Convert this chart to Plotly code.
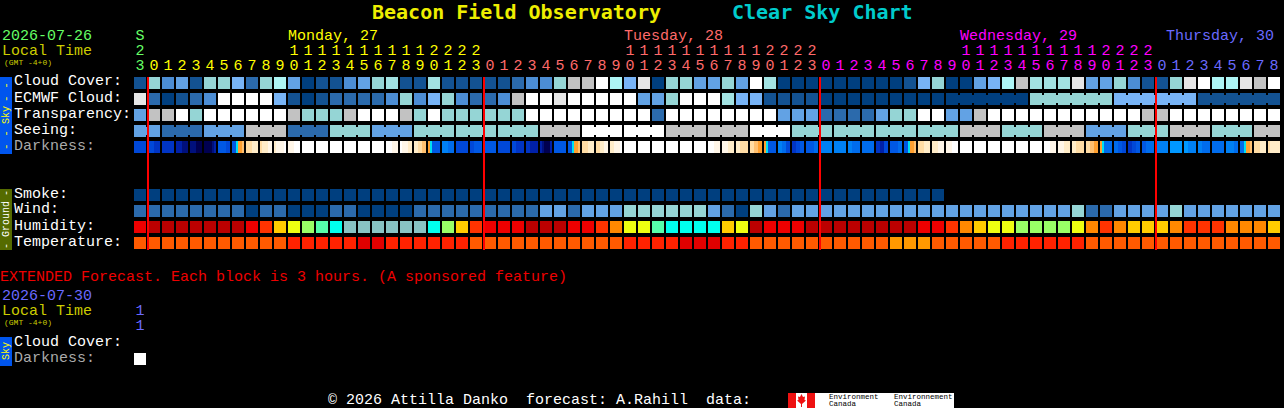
import plotly.graph_objects as go

# ---------- data: level codes ----------
cloud_cover = [1,8,3,4,1,8,8,5,2,8, 6,4,0,1,1,3,4,8,7,1, 1,7,1,1,1,1,1,2,3,3,
               8,9,9,11,6,5,10,0,8,8, 4,4,8,4,11,7,0,0,0,0, 0,0,0,0,0,1,5,8,0,0,
               4,5,6,9,7,7,7,10,4,4, 8,3,1,1,8,10,11,6,6,10, 9,11]
ecmwf_cloud = [10,2,0,1,2,3,11,11,11,11, 5,1,0,1,2,2,2,2,3,8, 3,5,8,3,2,2,3,9,11,11,
               10,11,11,11,11,11,4,4,8,11, 11,11,7,5,5,1,1,1,1,0, 0,0,0,0,0,0,0,0,0,0,
               0,0,0,0,8,8,8,8,8,8, 5,5,5,5,5,5,1,1,1,1, 1,1]
transparency = [4,9,9,11,8,11,11,11,11,11, 11,9,8,8,8,9,11,11,11,9, 8,11,8,8,8,8,8,8,11,11,
                11,11,11,11,11,11,11,2,11,11, 11,11,11,11,11,11,4,4,4,2, 2,2,2,4,8,8,11,11,4,4,
                9,11,11,11,11,11,11,11,11,11, 11,11,9,9,11,11,11,11,11,11, 11,11]
seeing = [4,4,2,2,2,4,4,4,9,9, 9,2,2,2,8,8,8,4,4,4, 8,8,8,8,8,8,8,8,8,9,
          9,9,11,11,11,11,11,11,9,9, 9,9,9,9,11,11,11,8,8,8, 8,8,8,8,8,8,8,8,8,9,
          9,9,8,8,8,9,9,9,4,4, 4,8,8,8,9,9,9,8,8,8, 9,9]
smoke = [0,0,0,0,0,0,0,0,0,0, 0,0,0,0,0,0,0,0,0,0, 0,0,0,0,0,0,0,0,0,0,
         0,0,0,0,0,0,0,0,0,0, 0,0,0,0,0,0,0,0,0,0, 0,0,0,0,0,0,0,0]
wind = [2,2,2,2,2,2,2,2,0,2, 2,0,0,0,2,2,0,0,0,0, 2,2,2,2,2,2,2,2,2,4,
        4,2,4,4,4,8,8,8,8,8, 8,4,2,0,8,4,2,4,4,4, 4,4,4,4,4,4,4,4,4,4,
        4,4,4,4,4,4,4,8,2,2, 4,4,4,4,8,4,4,4,4,4, 4,4]
humidity = list("RDDDDDDDRO" "YELMCGGGGG" "GCLYORRRDD" "DRROAEEMCC" "CCYEDRRRDD"
                "DDDDDDRROA" "YEELLLLEAO" "AYYYAOOOAA" "AY")
temperature = list("TTTTTTTTTT" "THHHHHXXHH" "HHHHTTTTTT" "TTTTTHHHHX" "XXHHTTTTTT"
                   "TTTTMMMTTT" "TTHHHHHHTT" "TTTTTTTTTT" "TT")
darkness = ["444444","444333","333333","222111","111000","000012","555544","55cooa","bbbddd","bdddee",
            "deeeew","eeewww","wwwwww","wwwwww","wwwwww","wwwwww","wwwwww","wwwwww","wwweee","weeedd",
            "ddbbaa","oc5555","777666","444444","445555","555555","444444","443333","332222","210002",
            "555555","55cooa","bbbddd","bbddee","ddeeew","wwwwww","wwwwww","wwwwww","wwwwww","wwwwww",
            "wwwwww","wwweee","eeeddd","ddbbbb","bbaaoo","oc5555","776644","334455","555566","777777",
            "777777","776666","666666","332244","555566","55cooa","bbbddd","dddeee","eeewww","wwwwww",
            "wwwwww","wwwwww","wwwwww","wwwwww","wwwwww","wwweee","eeeddd","ddbbbb","bbaaoo","oc6666",
            "665544","334455","556666","777777","888888","887777","776666","666666","777766","66cooa",
            "bbbddd","bddddd"]
extended_darkness = ["wwwwww"]
hour_labels = [23] + list(range(24)) + list(range(24)) + list(range(24)) + list(range(9))
midnights = [0, 24, 48, 72]
day_colors = ["#66ff66"] + ["#ffff00"]*24 + ["#ff6a6a"]*24 + ["#ff00ff"]*24 + ["#6a6aff"]*9

sky_palette = ["#003f7f","#135292","#2b6aac","#4c8dd4","#62a2e4","#78b4f6",
               "#adf5f5","#a2e2e2","#95d5d5","#c2c2c2","#e6e6e6","#ffffff"]
hum_palette = dict(D="#bb0000",R="#ee0000",O="#ff3300",A="#ff8800",Y="#ffcc00",E="#eeff11",
                   L="#99ff66",M="#55ffaa",C="#00ffee",G="#88c4c4")
tmp_palette = dict(T="#ff5a00",H="#ff2200",X="#e00000",M="#ff9900")
dark_palette = {"0":"#000050","1":"#00107c","2":"#0020a8","3":"#0034c4","4":"#0048d8","5":"#0058e4",
                "6":"#006cec","7":"#0080f4","8":"#0098ff","c":"#00e0f0","o":"#ffa030","a":"#ffc070",
                "b":"#ffdca4","d":"#ffecc8","e":"#fff6e8","w":"#ffffff"}

W, H = 1284, 408
FONT = "Liberation Mono"
CELL, ROW = 14.0, 16.0          # pixels per hour / per row
x0_px, y0_px = 140.0, 83.0      # pixel of hour index 0, row 0

fig = go.Figure()

def py2row(p):
    return (p - y0_px) / ROW

def row_bars(values, palette, row):
    idx = list(range(len(values)))
    fig.add_trace(go.Bar(x=idx, y=[0.75]*len(idx), base=[row-0.375]*len(idx), width=12/CELL,
                         marker=dict(color=[palette[v] for v in values], line=dict(width=0)),
                         hoverinfo="skip", showlegend=False))

def joints(values, row, block_starts, first=0):
    idx = [i for i in range(first, len(values)-1) if (i+1) not in block_starts]
    fig.add_trace(go.Bar(x=[i+0.5 for i in idx], y=[0.5]*len(idx), base=[row-0.25]*len(idx), width=2/CELL,
                         marker=dict(color=[sky_palette[values[i]] for i in idx], line=dict(width=0)),
                         hoverinfo="skip", showlegend=False))

def dark_bars(cells, row):
    xs, cols = [], []
    for i, s in enumerate(cells):
        for k, ch in enumerate(s):
            xs.append(i + (k-2.5)*2/CELL)
            cols.append(dark_palette[ch])
    fig.add_trace(go.Bar(x=xs, y=[0.75]*len(xs), base=[row-0.375]*len(xs), width=2/CELL,
                         marker=dict(color=cols, line=dict(width=0)),
                         hoverinfo="skip", showlegend=False))

row_bars(cloud_cover, sky_palette, 0)
row_bars(ecmwf_cloud, sky_palette, 1)
joints(ecmwf_cloud, 1, {64, 70, 76}, first=58)
row_bars(transparency, sky_palette, 2)
row_bars(seeing, sky_palette, 3)
joints(seeing, 3, set(range(2, 82, 3)))
dark_bars(darkness, 4)
row_bars(smoke, sky_palette, 7)
row_bars(wind, sky_palette, 8)
row_bars(humidity, hum_palette, 9)
row_bars(temperature, tmp_palette, 10)
dark_bars(extended_darkness, py2row(359))

# midnight lines
fig.add_trace(go.Bar(x=[m + 4/7 for m in midnights], y=[py2row(250)-py2row(77)]*4, base=[py2row(77)]*4,
                     width=2/CELL, marker=dict(color="#ff0000", line=dict(width=0)),
                     hoverinfo="skip", showlegend=False))

# hour digits
idx = list(range(len(hour_labels)))
fig.add_trace(go.Scatter(x=idx, y=[py2row(66)]*len(idx), mode="text",
                         text=[str(h % 10) for h in hour_labels], textposition="middle center",
                         textfont=dict(family=FONT, size=15, color=day_colors),
                         hoverinfo="skip", showlegend=False))
tens = [i for i in idx if hour_labels[i] >= 10]
fig.add_trace(go.Scatter(x=tens, y=[py2row(51)]*len(tens), mode="text",
                         text=[str(hour_labels[i]//10) for i in tens], textposition="middle center",
                         textfont=dict(family=FONT, size=15, color=[day_colors[i] for i in tens]),
                         hoverinfo="skip", showlegend=False))
fig.add_trace(go.Scatter(x=[0, 0, 0], y=[py2row(36), py2row(311), py2row(326)],
                         mode="text", text=["S", "1", "1"], textposition="middle center",
                         textfont=dict(family=FONT, size=15, color=["#66ff66", "#6a6aff", "#6a6aff"]),
                         hoverinfo="skip", showlegend=False))

ann = []
def text(px, py, s, color="#ffffff", size=15, family=FONT, anchor="left", angle=0, bold=False):
    if bold:
        s = "<b>" + s + "</b>"
    ann.append(dict(x=px/W, y=1-py/H, xref="paper", yref="paper", text=s.replace(" ", "\u00a0"),
                    showarrow=False, xanchor=anchor, yanchor="middle", textangle=angle,
                    font=dict(family=family, size=size, color=color), borderpad=0))

text(371, 12, "Beacon Field Observatory", "#eeee00", 20, "DejaVu Sans Mono", bold=True)
text(731, 12, "Clear Sky Chart", "#00cccc", 20, "DejaVu Sans Mono", bold=True)
text(1, 36, "2026-07-26", "#66ff66")
text(1, 51, "Local Time", "#cccc00")
text(3, 62, "(GMT -4+0)", "#cccc00", 8)
text(287, 36, "Monday, 27", "#ffff00")
text(623, 36, "Tuesday, 28", "#ff6a6a")
text(959, 36, "Wednesday, 29", "#ff00ff")
text(1275, 36, "Thursday, 30", "#6a6aff", anchor="right")
rows = [("Cloud Cover:",82,"#ffffff"),("ECMWF Cloud:",98,"#ffffff"),("Transparency:",114,"#ffffff"),
        ("Seeing:",130,"#ffffff"),("Darkness:",146,"#aaaaaa"),("Smoke:",194,"#ffffff"),
        ("Wind:",210,"#ffffff"),("Humidity:",226,"#ffffff"),("Temperature:",242,"#ffffff"),
        ("Cloud Cover:",342,"#ffffff"),("Darkness:",358,"#aaaaaa")]
for s, y, c in rows:
    text(13, y, s, c)
text(-1, 277, "EXTENDED Forecast. Each block is 3 hours. (A sponsored feature)", "#ee0000")
text(1, 296, "2026-07-30", "#6a6aff")
text(1, 311, "Local Time", "#cccc00")
text(3, 322, "(GMT -4+0)", "#cccc00", 8)
text(327, 400, "\u00a9 2026 Attilla Danko  forecast: A.Rahill  data:", "#ffffff")
text(6, 115, "Sky", "#ffff00", 10, angle=-90, anchor="center")
text(6, 92, "- -", "#ffff00", 11, angle=-90, anchor="center")
text(6, 140, "- -", "#ffff00", 11, angle=-90, anchor="center")
text(6, 219, "Ground", "#ffffff", 10, angle=-90, anchor="center")
text(6, 193, "-", "#ffffff", 10, angle=-90, anchor="center")
text(6, 246, "-", "#ffffff", 10, angle=-90, anchor="center")
text(6, 351, "Sky", "#ffff00", 10, angle=-90, anchor="center")
text(828, 397, "Environment", "#000000", 7.5)
text(828, 403.5, "Canada", "#000000", 7.5)
text(893, 397, "Environnement", "#000000", 7.5)
text(893, 403.5, "Canada", "#000000", 7.5)

def rect(x1, y1, x2, y2, color):
    return dict(type="rect", xref="paper", yref="paper", x0=x1/W, x1=x2/W, y0=1-y1/H, y1=1-y2/H,
                fillcolor=color, line=dict(width=0), layer="below")

leaf = [(801.5,394),(803,397),(805,396.5),(804.5,400),(806,400.5),(802,404),(802,407),(801,407),
        (801,404),(797,400.5),(798.5,400),(798,396.5),(800,397)]
path = "M " + " L ".join(f"{x/W:.5f},{1-y/H:.5f}" for x, y in leaf) + " Z"
shapes = [rect(0,77,12,154,"#0055ee"), rect(0,189,12,250,"#556b00"), rect(0,337,12,366,"#0055ee"),
          rect(788,393,954,408,"#ffffff"), rect(788,393,796,408,"#ee1111"), rect(807,393,815,408,"#ee1111"),
          dict(type="path", path=path, xref="paper", yref="paper", fillcolor="#ee1111", line=dict(width=0), layer="below")]

fig.update_layout(
    width=W, height=H, margin=dict(l=0, r=0, t=0, b=0), autosize=False,
    paper_bgcolor="#000000", plot_bgcolor="rgba(0,0,0,0)", barmode="overlay", bargap=0,
    showlegend=False, annotations=ann, shapes=shapes,
    xaxis=dict(range=[(0-x0_px)/CELL, (W-x0_px)/CELL], visible=False, fixedrange=True),
    yaxis=dict(range=[(H-y0_px)/ROW, (0-y0_px)/ROW], visible=False, fixedrange=True),
)
fig.write_html("out.html", config=dict(displayModeBar=False),
               post_script="document.body.style.margin='0';document.body.style.background='#000';")
